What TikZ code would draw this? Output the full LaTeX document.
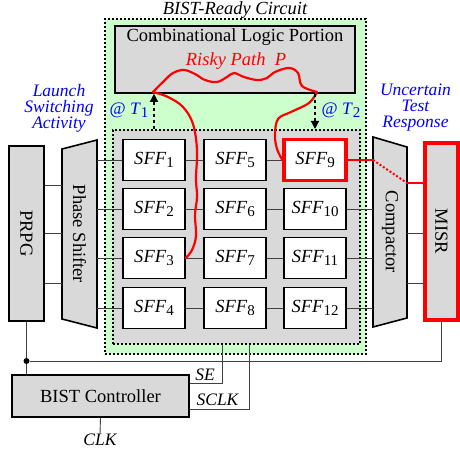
\documentclass[tikz,border=0pt]{standalone}
\usepackage{fontspec}
\setmainfont{Liberation Serif}
\usepackage{xcolor}
\usetikzlibrary{arrows.meta, calc, positioning}

\definecolor{boxgray}{HTML}{D9D9D9}
\definecolor{readygreen}{HTML}{CCFFCC}
\definecolor{wiregray}{HTML}{404040}

\newcommand{\subidx}[1]{\raisebox{-3pt}{\fontsize{15}{15}\selectfont #1}}
\newcommand{\sff}[1]{\textit{SFF}\subidx{#1}}

\tikzset{
  block/.style={draw, fill=boxgray, line width=1.6pt, inner sep=0pt, font=\fontsize{18.5}{18.5}\selectfont},
  flop/.style={draw, fill=white, line width=1.6pt, minimum width=62pt, minimum height=41pt, inner sep=0pt, font=\fontsize{18.5}{18.5}\selectfont},
  dotbox/.style={draw, line width=2pt, dash pattern=on 2.2pt off 1.8pt, inner sep=0pt},
  wire/.style={draw=wiregray, line width=0.9pt},
  riskwire/.style={red, line width=2.2pt, line join=round, line cap=round},
  timing/.style={dashed, line width=1.4pt, -{Triangle[length=8pt,width=8pt]}},
  note/.style={blue, font=\fontsize{17.5}{16}\selectfont\itshape, align=center},
  tag/.style={inner sep=0pt, font=\fontsize{17.5}{17.5}\selectfont\itshape},
}

\begin{document}
\begin{tikzpicture}[x=1pt, y=-1pt]
\useasboundingbox (0,0) rectangle (460,454);

% BIST-ready part
\node[dotbox, fill=readygreen, minimum width=261pt, minimum height=335pt] (ready) at (235.5,186.5) {};
\node[inner sep=0pt, anchor=base, font=\fontsize{18.5}{18.5}\selectfont\itshape] (readylbl) at (235,14.5) {BIST-Ready Circuit};

\node[block, minimum width=240pt, minimum height=67pt] (comb) at (235,59.5) {};
\node[font=\fontsize{18.5}{18.5}\selectfont] (combtxt) at (235,37) {Combinational Logic Portion};
\node[red, font=\fontsize{18.5}{18.5}\selectfont\itshape] (risklbl) at (236,61) {Risky Path\ \ P};

\node[dotbox, fill=boxgray, minimum width=247pt, minimum height=214pt] (chain) at (236.5,237) {};

% scan flip-flops
\foreach \n/\x/\y in {1/154/160, 2/154/209, 3/154/258, 4/154/308,
                      5/235/160, 6/235/209, 7/235/258, 8/235/308,
                      10/315/209, 11/315/258, 12/315/308}
  \node[flop] (f\n) at (\x,\y) {\sff{\n}};
\node[flop, draw=red, line width=3.2pt] (f9) at (315,160) {\sff{9}};

\foreach \a/\b in {f1/f5, f5/f9, f2/f6, f6/f10, f3/f7, f7/f11, f4/f8, f8/f12}
  \draw[wire] (\a.east) -- (\b.west);

% PRPG and phase shifter
\node[block, minimum width=35pt, minimum height=175pt] (prpg) at (26.5,233.5) {};
\node[rotate=-90, font=\fontsize{18.5}{18.5}\selectfont] (prpgtxt) at (prpg.center) {PRPG};

\draw[block] (62,149) -- (97,140) -- (97,328) -- (62,319) -- cycle;
\coordinate (psW) at (62,234);
\coordinate (psE) at (97,234);
\node[rotate=-90, font=\fontsize{18.5}{18.5}\selectfont] (shifter) at (79.5,234) {Phase Shifter};

\foreach \y in {185, 233, 283}
  \draw[wire] (prpg.east |- 0,\y) -- (psW |- 0,\y);
\foreach \n in {1,2,3,4}
  \draw[wire] (psE |- f\n.west) -- (f\n.west);

% compactor and MISR
\draw[block] (373,137) -- (407,147) -- (407,318) -- (373,327) -- cycle;
\coordinate (cmpW) at (373,232);
\coordinate (cmpE) at (407,232);
\node[rotate=-90, font=\fontsize{18.5}{18.5}\selectfont] (compactor) at (390,232) {Compactor};

\node[draw=red, fill=boxgray, line width=3.5pt, minimum width=33pt, minimum height=177pt, inner sep=0pt] (misr) at (441.5,231.5) {};
\node[rotate=-90, font=\fontsize{18.5}{18.5}\selectfont] (misrtxt) at (misr.center) {MISR};

\foreach \n in {10,11,12}
  \draw[wire] (f\n.east) -- (cmpW |- f\n.east);
\foreach \y in {233, 283}
  \draw[wire] (cmpE |- 0,\y) -- (misr.west |- 0,\y);

\draw[riskwire] (f9.east) -- (cmpW |- f9.east);
\draw[red, line width=2pt, dash pattern=on 2pt off 2pt] (cmpW |- f9.east) -- (cmpE |- 0,183);
\draw[riskwire] (cmpE |- 0,183) -- (misr.west |- 0,183);

% risky path
\coordinate (t1) at (153,92);
\coordinate (t2) at (317,92);
\draw[riskwire] plot[smooth, tension=0.6] coordinates {(f3.east) (192,250) (196,236) (195,215) (197,197) (196,178) (197,150) (193,124) (183,107) (168,97) (t1)};
\draw[riskwire] plot[smooth, tension=0.6] coordinates {(t1) (164,81) (173,73) (184,70) (195,74) (205,80) (217,82) (227,77) (234,73) (244,77) (257,80) (267,78) (275,72) (289,68) (298,73) (302,86) (t2)};
\draw[riskwire] plot[smooth, tension=0.6] coordinates {(t2) (309,103) (291,112) (278,119) (275,135) (277,149) (f9.west)};

% launch / capture times
\draw[timing] (f1 |- chain.north) -- (f1 |- comb.south);
\draw[timing] (f9 |- comb.south) -- (f9 |- chain.north);
\node[blue, font=\fontsize{17.5}{17.5}\selectfont] (at1) at (129,110) {@ \textit{T}\subidx{1}};
\node[blue, font=\fontsize{17.5}{17.5}\selectfont] (at2) at (341,110) {@ \textit{T}\subidx{2}};

\node[note] (launch) at (59,108) {Launch\\Switching\\Activity};
\node[note] (uncertain) at (415.5,108) {Uncertain\\Test\\Response};

% controller
\node[block, minimum width=177pt, minimum height=42pt] (ctrl) at (100.5,396) {BIST Controller};

\node[circle, fill=black, inner sep=0pt, minimum size=6pt] (join) at (prpg.south |- 0,361) {};
\draw[wire] (prpg.south) -- (join) -- (join |- ctrl.north);
\draw[wire] (join) -| (misr.south);

\coordinate (setap) at (222,0 |- chain.south);
\coordinate (clktap) at (249,0 |- chain.south);
\draw[wire] (setap) |- (ctrl.east |- 0,383);
\draw[wire] (clktap) |- (ctrl.east |- 0,409);
\node[tag] (se) at (205,375) {SE};
\node[tag] (sclk) at (217.5,399.5) {SCLK};

\node[tag] (clk) at (100,440) {CLK};
\draw[wire] (ctrl.south) -- (clk.north);
\end{tikzpicture}
\end{document}
